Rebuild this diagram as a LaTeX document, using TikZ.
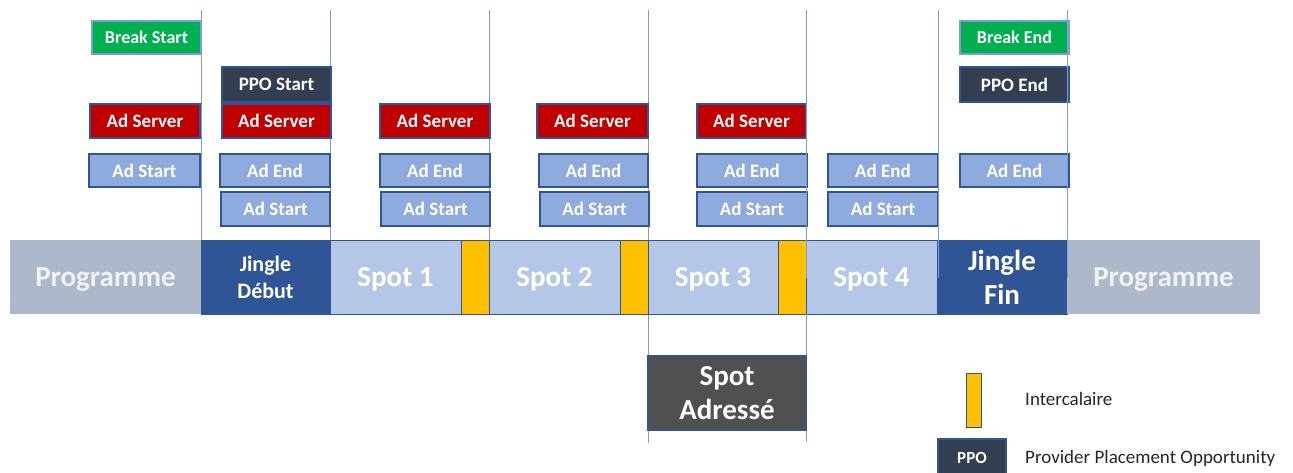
\documentclass[tikz,border=0pt]{standalone}
\usepackage{fontspec}
\setmainfont{Carlito}
\definecolor{prog}{HTML}{ADB9CA}
\definecolor{jingle}{HTML}{2F5597}
\definecolor{spot}{HTML}{B4C7E7}
\definecolor{inter}{HTML}{FFC000}
\definecolor{adlight}{HTML}{8FAADC}
\definecolor{adred}{HTML}{C00000}
\definecolor{ppo}{HTML}{333F50}
\definecolor{brk}{HTML}{00B050}
\definecolor{addr}{HTML}{505050}
\definecolor{edge}{HTML}{2F5597}
\definecolor{marker}{HTML}{7C9DDA}
\definecolor{legendtext}{HTML}{262626}
\begin{document}
\begin{tikzpicture}[x=1pt,y=-1pt,
  tag/.style={draw=edge, line width=1.2pt, text=white, inner sep=0pt, outer sep=0pt,
    anchor=north west, font=\fontsize{19}{21}\selectfont\bfseries},
  adbox/.style={tag, fill=adlight},
  srvbox/.style={tag, fill=adred},
  ppobox/.style={tag, fill=ppo},
  brkbox/.style={tag, fill=brk, draw=marker, font=\fontsize{18}{20}\selectfont\bfseries},
  seg/.style={inner sep=0pt, outer sep=0pt, anchor=north west, minimum height=74pt,
    text=white, align=center, font=\fontsize{29}{34}\selectfont\bfseries},
  oneline/.style={text height=19pt, text depth=0pt},
  spotseg/.style={seg, oneline, fill=spot, draw=edge, line width=1pt},
  interseg/.style={seg, fill=inter, draw=edge, line width=1pt},
  jingleseg/.style={seg, fill=jingle, draw=edge, line width=1pt},
  progseg/.style={seg, oneline, fill=prog, text=white!95!black},
  markline/.style={draw=marker, line width=1pt},
  legendlabel/.style={anchor=west, inner sep=0pt, text=legendtext, font=\fontsize{19}{21}\selectfont}
]
\useasboundingbox (0,0) rectangle (1293,472);

% time markers behind the strip
\coordinate (t1) at (201,10);  \coordinate (b1) at (201,240);
\coordinate (t2) at (330,10);  \coordinate (b2) at (330,240);
\coordinate (t3) at (489,10);  \coordinate (b3) at (489,240);
\coordinate (t4) at (648,10);  \coordinate (b4) at (648,443);
\draw[markline] (t1) -- (b1);
\draw[markline] (t2) -- (b2);
\draw[markline] (t3) -- (b3);
\draw[markline] (t4) -- (b4);

% event tags
\node[brkbox, minimum width=109pt, minimum height=33pt] (bs) at (92,21) {Break Start};
\node[brkbox, minimum width=109pt, minimum height=33pt] (be) at (960,21) {Break End};
\node[ppobox, minimum width=109pt, minimum height=35pt] (ps) at (222,67) {PPO Start};
\node[ppobox, minimum width=109pt, minimum height=35pt] (pe) at (960,67) {PPO End};

\node[srvbox, minimum width=110pt, minimum height=34pt] (srv1) at (90,104) {Ad Server};
\node[srvbox, minimum width=109pt, minimum height=34pt] (srv2) at (222,104) {Ad Server};
\node[srvbox, minimum width=110pt, minimum height=34pt] (srv3) at (380,104) {Ad Server};
\node[srvbox, minimum width=111pt, minimum height=34pt] (srv4) at (537,104) {Ad Server};
\node[srvbox, minimum width=109pt, minimum height=34pt] (srv5) at (697,104) {Ad Server};

\node[adbox, minimum width=111pt, minimum height=33pt] (ast0) at (89,154) {Ad Start};
\node[adbox, minimum width=110pt, minimum height=33pt] (aen1) at (220,154) {Ad End};
\node[adbox, minimum width=110pt, minimum height=33pt] (aen2) at (380,154) {Ad End};
\node[adbox, minimum width=109pt, minimum height=33pt] (aen3) at (539,154) {Ad End};
\node[adbox, minimum width=110pt, minimum height=33pt] (aen4) at (697,154) {Ad End};
\node[adbox, minimum width=110pt, minimum height=33pt] (aen5) at (828,154) {Ad End};
\node[adbox, minimum width=109pt, minimum height=33pt] (aen6) at (960,154) {Ad End};

\node[adbox, minimum width=109pt, minimum height=34pt] (ast1) at (221,192) {Ad Start};
\node[adbox, minimum width=109pt, minimum height=34pt] (ast2) at (381,192) {Ad Start};
\node[adbox, minimum width=109pt, minimum height=34pt] (ast3) at (540,192) {Ad Start};
\node[adbox, minimum width=110pt, minimum height=34pt] (ast4) at (697,192) {Ad Start};
\node[adbox, minimum width=110pt, minimum height=34pt] (ast5) at (828,192) {Ad Start};

% the break strip
\node[progseg, minimum width=191pt] (prog1) at (10,240) {Programme};
\node[jingleseg, minimum width=129pt, font=\fontsize{22}{27}\selectfont\bfseries] (jd) at (201,240) {Jingle\\Début};
\node[spotseg, minimum width=131pt] (s1) at (330,240) {Spot 1};
\node[interseg, minimum width=28pt] (i1) at (461,240) {};
\node[spotseg, minimum width=131pt] (s2) at (489,240) {Spot 2};
\node[interseg, minimum width=28pt] (i2) at (620,240) {};
\node[spotseg, minimum width=130pt] (s3) at (648,240) {Spot 3};
\node[interseg, minimum width=28pt] (i3) at (778,240) {};
\node[spotseg, minimum width=131pt] (s4) at (806,240) {Spot 4};
\node[jingleseg, minimum width=130pt] (jf) at (937,240) {Jingle\\Fin};
\node[progseg, minimum width=193pt] (prog2) at (1067,240) {Programme};

% markers running over the strip
\coordinate (t5) at (806,10);  \coordinate (m5) at (806,278);
\coordinate (u5) at (806,314); \coordinate (b5) at (806,442);
\coordinate (t6) at (938,10);  \coordinate (m6) at (938,278);
\coordinate (t7) at (1067,10); \coordinate (m7) at (1067,278);
\draw[markline] (t5) -- (m5);
\draw[markline] (u5) -- (b5);
\draw[markline] (t6) -- (m6);
\draw[markline] (t7) -- (m7);

% addressed spot
\node[seg, fill=addr, draw=edge, line width=1.2pt, minimum width=158pt] (sa) at (648,356) {Spot\\Adressé};

% legend
\node[seg, fill=inter, draw=edge, line width=1pt, minimum width=15pt, minimum height=54pt] (lgi) at (966,373) {};
\node[legendlabel] (lgit) at (1025,399) {Intercalaire};
\node[ppobox, minimum width=68pt, minimum height=40pt, font=\fontsize{17}{18}\selectfont\bfseries, text depth=0pt] (lgp) at (938,439) {\raisebox{3pt}{PPO}};
\node[legendlabel] (lgpt) at (1025,458) {Provider Placement Opportunity};
\end{tikzpicture}
\end{document}
